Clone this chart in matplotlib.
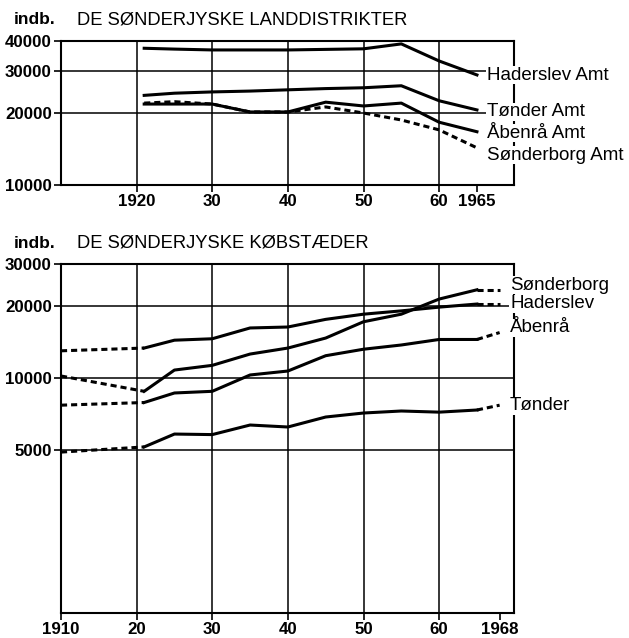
import matplotlib
matplotlib.use('Agg')
import matplotlib.pyplot as plt
from matplotlib.ticker import FixedLocator, FixedFormatter, NullLocator

# ---------------- data ----------------
rural_years = [1921, 1925, 1930, 1935, 1940, 1945, 1950, 1955, 1960, 1965]
haderslev_amt = [37300, 37000, 36700, 36700, 36700, 36900, 37100, 38900, 33000, 28850]
tonder_amt = [23700, 24200, 24500, 24700, 25000, 25300, 25500, 26000, 22500, 20600]
abenraa_amt = [21800, 21800, 21800, 20200, 20200, 22200, 21400, 22000, 18300, 16700]
sonderborg_amt = [22000, 22300, 21800, 20200, 20200, 21200, 20000, 18700, 17000, 14300]
rural_names = ["Haderslev Amt", "Tønder Amt", "Åbenrå Amt", "Sønderborg Amt"]

town_years = [1910, 1921, 1925, 1930, 1935, 1940, 1945, 1950, 1955, 1960, 1965, 1968]
haderslev = [13000, 13350, 14400, 14600, 16200, 16350, 17600, 18500, 19100, 19800, 20400, 20400]
sonderborg = [10200, 8800, 10800, 11300, 12600, 13350, 14700, 17200, 18500, 21400, 23400, 23400]
abenraa = [7700, 7900, 8660, 8800, 10300, 10700, 12400, 13200, 13750, 14500, 14500, 15500]
tonder = [4900, 5150, 5830, 5800, 6360, 6240, 6870, 7140, 7280, 7200, 7350, 7700]
town_names = ["Sønderborg", "Haderslev", "Åbenrå", "Tønder"]

top_title = "DE SØNDERJYSKE LANDDISTRIKTER"
bottom_title = "DE SØNDERJYSKE KØBSTÆDER"
unit_label = "indb."

top_yticks = [10000, 20000, 30000, 40000]
top_xticks = [1920, 1930, 1940, 1950, 1960, 1965]
top_xticklabels = ["1920", "30", "40", "50", "60", "1965"]
bottom_yticks = [5000, 10000, 20000, 30000]
bottom_xticks = [1910, 1920, 1930, 1940, 1950, 1960, 1968]
bottom_xticklabels = ["1910", "20", "30", "40", "50", "60", "1968"]

# ---------------- style ----------------
FONT = ['Liberation Sans', 'DejaVu Sans']
plt.rcParams['font.family'] = FONT
LW = 2.2
GRID_LW = 1.1
SPINE_LW = 1.5
DASH = (2.0, 1.3)

W, H = 629, 638
fig = plt.figure(figsize=(W / 100, H / 100), dpi=100)

def fx(px):
    return px / W

def fy(py):
    return 1 - py / H

ax1 = fig.add_axes([fx(61), fy(185), fx(514) - fx(61), fy(41) - fy(185)])
ax2 = fig.add_axes([fx(61), fy(613), fx(514) - fx(61), fy(264) - fy(613)])

def style_axis(ax, yticks, xticks, xlabels, ylim, grid_x, grid_y):
    ax.set_yscale('log')
    ax.set_xlim(1910, 1969.9)
    ax.set_ylim(*ylim)
    ax.yaxis.set_major_locator(FixedLocator(yticks))
    ax.yaxis.set_major_formatter(FixedFormatter([str(v) for v in yticks]))
    ax.yaxis.set_minor_locator(NullLocator())
    ax.set_xticks(xticks)
    ax.set_xticklabels(xlabels)
    for lab in ax.get_xticklabels() + ax.get_yticklabels():
        lab.set_fontweight('bold')
        lab.set_fontsize(12.2)
    ax.tick_params(axis='both', direction='out', length=5, width=1.2, pad=1.5)
    for s in ax.spines.values():
        s.set_linewidth(SPINE_LW)
    for gx in grid_x:
        ax.axvline(gx, color='black', lw=GRID_LW, zorder=1)
    for gy in grid_y:
        ax.axhline(gy, color='black', lw=GRID_LW, zorder=1)

style_axis(ax1, top_yticks, top_xticks, top_xticklabels, (10000, 40000),
           [1920, 1930, 1940, 1950, 1960], [20000, 30000])
style_axis(ax2, bottom_yticks, bottom_xticks, bottom_xticklabels, (1040, 30000),
           [1920, 1930, 1940, 1950, 1960], [5000, 10000, 20000])

# top panel lines
ax1.plot(rural_years, haderslev_amt, color='black', lw=LW, zorder=3)
ax1.plot(rural_years, tonder_amt, color='black', lw=LW, zorder=3)
ax1.plot(rural_years, abenraa_amt, color='black', lw=LW, zorder=3)
ax1.plot(rural_years, sonderborg_amt, color='black', lw=LW, ls='--', dashes=DASH, zorder=3)

# bottom panel lines: solid middle, dashed ends
for series in [haderslev, sonderborg, abenraa, tonder]:
    ax2.plot(town_years[1:-1], series[1:-1], color='black', lw=LW, zorder=3)
    ax2.plot(town_years[:2], series[:2], color='black', lw=LW, ls='--', dashes=DASH, zorder=3)
    ax2.plot(town_years[-2:], series[-2:], color='black', lw=LW, ls='--', dashes=DASH, zorder=3)

# titles
fig.text(fx(14), fy(19), unit_label, fontsize=12.5, fontweight='bold', va='center', ha='left')
fig.text(fx(77), fy(20), top_title, fontsize=13.2, va='center', ha='left')
fig.text(fx(14), fy(243), unit_label, fontsize=12.5, fontweight='bold', va='center', ha='left')
fig.text(fx(77), fy(243), bottom_title, fontsize=13.2, va='center', ha='left')

# series labels
bbox = dict(facecolor='white', edgecolor='none', pad=0.5)
for name, py in zip(rural_names, [75, 112, 133, 155]):
    fig.text(fx(487), fy(py), name, fontsize=13.5, va='center', ha='left', bbox=bbox)
for name, py in zip(town_names, [285, 304, 328, 406]):
    fig.text(fx(510), fy(py), name, fontsize=13.5, va='center', ha='left', bbox=bbox)

fig.savefig('out.png', dpi=100)
